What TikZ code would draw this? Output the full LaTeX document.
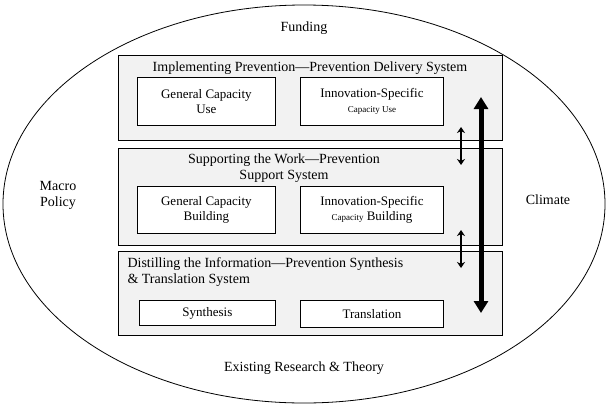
\documentclass[tikz,border=0pt]{standalone}
\usepackage{fontspec}
\setmainfont{Liberation Serif}
\usetikzlibrary{arrows.meta,shapes.geometric}
\begin{document}
\begin{tikzpicture}[x=1pt,y=-1pt,
  layer/.style={draw,fill=gray!10,thick,minimum width=384pt,anchor=north west},
  part/.style={draw,fill=white,thick,align=center,anchor=north west,font=\fontsize{13}{15}\selectfont},
  lab/.style={font=\fontsize{14}{16}\selectfont,align=center},
  link/.style={{Stealth[length=6pt,width=8pt]}-{Stealth[length=6pt,width=8pt]},line width=2pt}]
\useasboundingbox (0,0) rectangle (607,407);
\path (304,204) node[draw,thick,ellipse,minimum width=602pt,minimum height=398pt](env){};
\path
  (118,55) node[layer,minimum height=85pt](deliv){}
  (118,148) node[layer,minimum height=97pt](supp){}
  (118,251) node[layer,minimum height=84pt](synth){};
\path
  (137,77) node[part,minimum width=138pt,minimum height=48pt](gcu){General Capacity\\Use}
  (300,77) node[part,minimum width=143pt,minimum height=48pt](isu){Innovation-Specific\\{\small Capacity Use}}
  (137,186) node[part,minimum width=138pt,minimum height=47pt](gcb){General Capacity\\Building}
  (300,186) node[part,minimum width=143pt,minimum height=47pt](isb){Innovation-Specific\\{\small Capacity} Building}
  (139,300) node[part,minimum width=136pt,minimum height=25pt](syn){Synthesis}
  (300,300) node[part,minimum width=143pt,minimum height=27pt](tra){Translation};
\path
  (310,68) node[lab](t1){Implementing Prevention---Prevention Delivery System}
  (284,168) node[lab](t2){Supporting the Work---Prevention\\Support System}
  (124,272) node[lab,align=left,anchor=west](t3){Distilling the Information---Prevention Synthesis\\\& Translation System}
  (304,28) node[lab](fund){Funding}
  (58,195) node[lab](macro){Macro\\Policy}
  (548,200) node[lab](clim){Climate}
  (304,368) node[lab](exist){Existing Research \& Theory};
\coordinate (a1) at (461,127); \coordinate (a2) at (461,165);
\coordinate (b1) at (461,230); \coordinate (b2) at (461,268);
\coordinate (c1) at (481,97); \coordinate (c2) at (481,313);
\draw[link] (a1) -- (a2);
\draw[link] (b1) -- (b2);
\draw[{Triangle[length=12pt,width=14pt]}-{Triangle[length=12pt,width=14pt]},line width=5pt] (c1) -- (c2);
\end{tikzpicture}
\end{document}
